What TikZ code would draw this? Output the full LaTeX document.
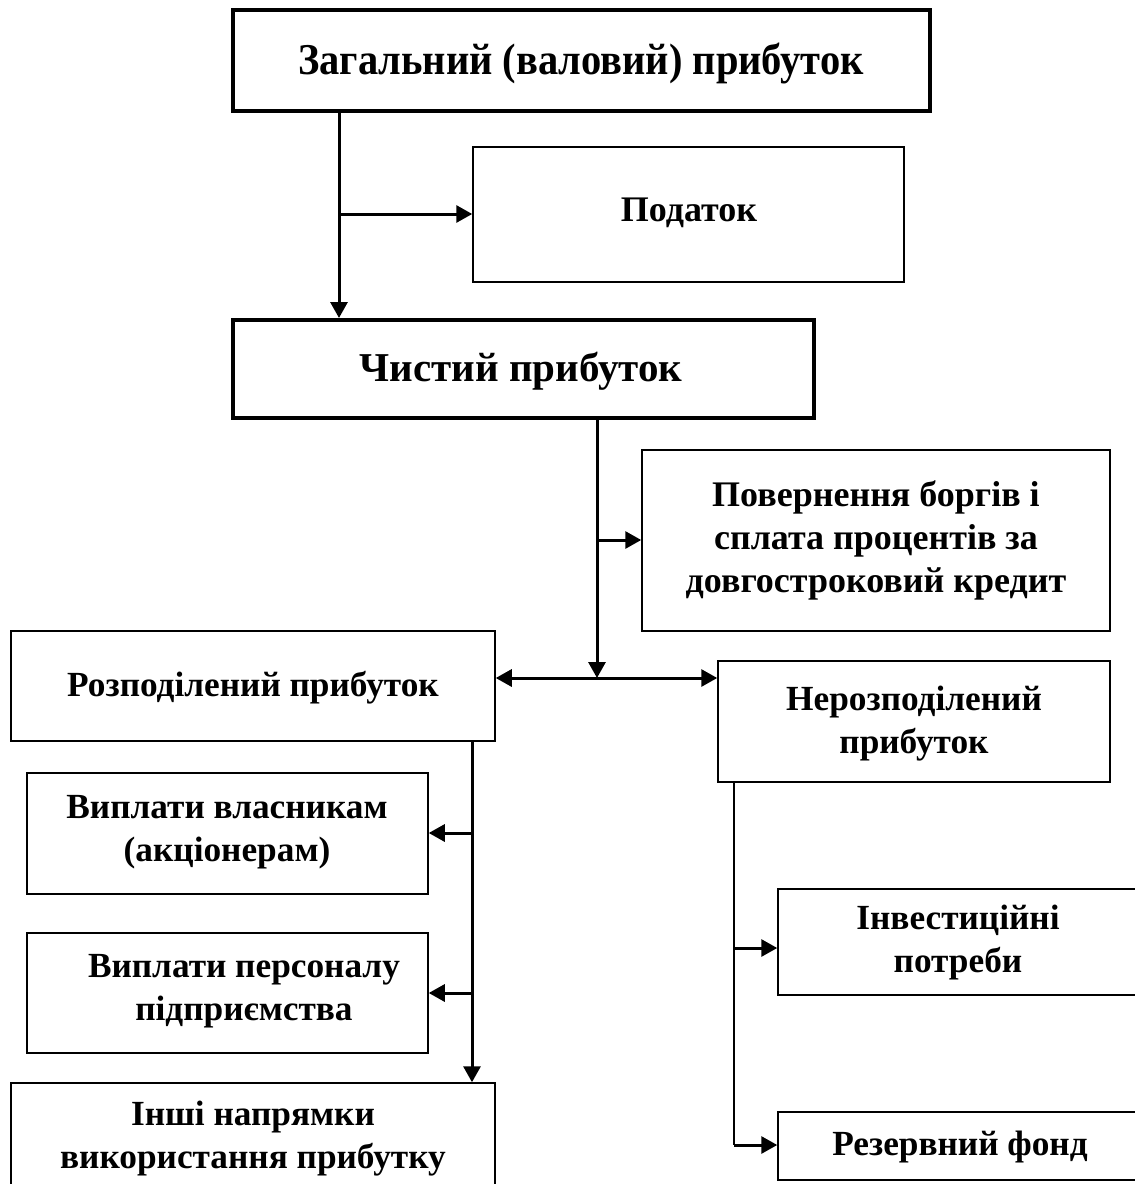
\documentclass[tikz,border=0pt]{standalone}
\usepackage{fontspec}
\setmainfont{Liberation Serif}
\usetikzlibrary{arrows.meta}
\begin{document}
\begin{tikzpicture}[x=1pt,y=-1pt,
  thickbox/.style={draw,line width=4pt,inner sep=0pt},
  thinbox/.style={draw,line width=1.5pt,inner sep=0pt},
  txt/.style={font=\fontsize{35.3}{43}\selectfont\bfseries,align=center,inner sep=0pt},
  uptxt/.style={font=\fontsize{#1}{43}\selectfont\bfseries,align=center,inner sep=0pt},
  conn/.style={line width=3pt,-{Triangle[length=16pt,width=17pt]}},
  conn2/.style={line width=3pt,{Triangle[length=16pt,width=17pt]}-{Triangle[length=16pt,width=17pt]}},
  trunk/.style={line width=1.5pt}]
\useasboundingbox (0,0) rectangle (1135,1184);
% boxes
\node[thickbox,minimum width=697pt,minimum height=101pt] (gross) at (581.5,60.5) {};
\node[thinbox,minimum width=431pt,minimum height=135pt] (tax) at (688.5,214.5) {};
\node[thickbox,minimum width=581pt,minimum height=98pt] (net) at (523.5,369) {};
\node[thinbox,minimum width=468pt,minimum height=181pt] (repay) at (876,540.5) {};
\node[thinbox,minimum width=484pt,minimum height=110pt] (dist) at (253,686) {};
\node[thinbox,minimum width=392pt,minimum height=121pt] (undist) at (914,721.5) {};
\node[thinbox,minimum width=401pt,minimum height=121pt] (owners) at (227.5,833.5) {};
\node[thinbox,minimum width=401pt,minimum height=120pt] (staff) at (227.5,993) {};
\node[thinbox,minimum width=484pt,minimum height=114pt] (other) at (253,1140) {};
\node[thinbox,minimum width=372pt,minimum height=106pt] (invest) at (964,942) {};
\node[thinbox,minimum width=372pt,minimum height=68pt] (reserve) at (964,1146) {};
% texts
\node[uptxt=44] (tgross) at (581,63) {\scalebox{0.92}[1]{Загальний (валовий) прибуток}};
\node[uptxt=36] (ttax) at (689,213) {Податок};
\node[uptxt=41] (tnet) at (521,371) {Чистий прибуток};
\node[uptxt=36] (trepay) at (876,540) {Повернення боргів і\\сплата процентів за\\довгостроковий кредит};
\node[txt] (tdist) at (253,688) {Розподілений прибуток};
\node[txt] (tundist) at (914,724) {Нерозподілений\\прибуток};
\node[txt] (towners) at (227,832) {Виплати власникам\\(акціонерам)};
\node[txt] (tstaff) at (244,991) {Виплати персоналу\\підприємства};
\node[txt] (tother) at (253,1139) {Інші напрямки\\використання прибутку};
\node[txt] (tinvest) at (958,942) {Інвестиційні\\потреби};
\node[txt] (treserve) at (960,1147) {Резервний фонд};
% junction coordinates
\coordinate (jA) at (339,214);
\coordinate (jB) at (597,540);
\coordinate (split) at (597,678);
\coordinate (jC) at (472,833);
\coordinate (jD) at (472,993);
\coordinate (jE) at (734,948);
\coordinate (jF) at (734,1145);
% connectors
\draw[conn] (gross.south -| jA) -- (net.north -| jA);
\draw[conn] (jA) -- (tax.west |- jA);
\draw[conn] (net.south -| split) -- (split);
\draw[conn] (jB) -- (repay.west |- jB);
\draw[conn2] (dist.east |- split) -- (undist.west |- split);
\draw[conn] (dist.south -| jC) -- (other.north -| jC);
\draw[conn] (jC) -- (owners.east |- jC);
\draw[conn] (jD) -- (staff.east |- jD);
\draw[trunk] (undist.south -| jE) -- (jF);
\draw[conn] (jE) -- (invest.west |- jE);
\draw[conn] (jF) -- (reserve.west |- jF);
\end{tikzpicture}
\end{document}
